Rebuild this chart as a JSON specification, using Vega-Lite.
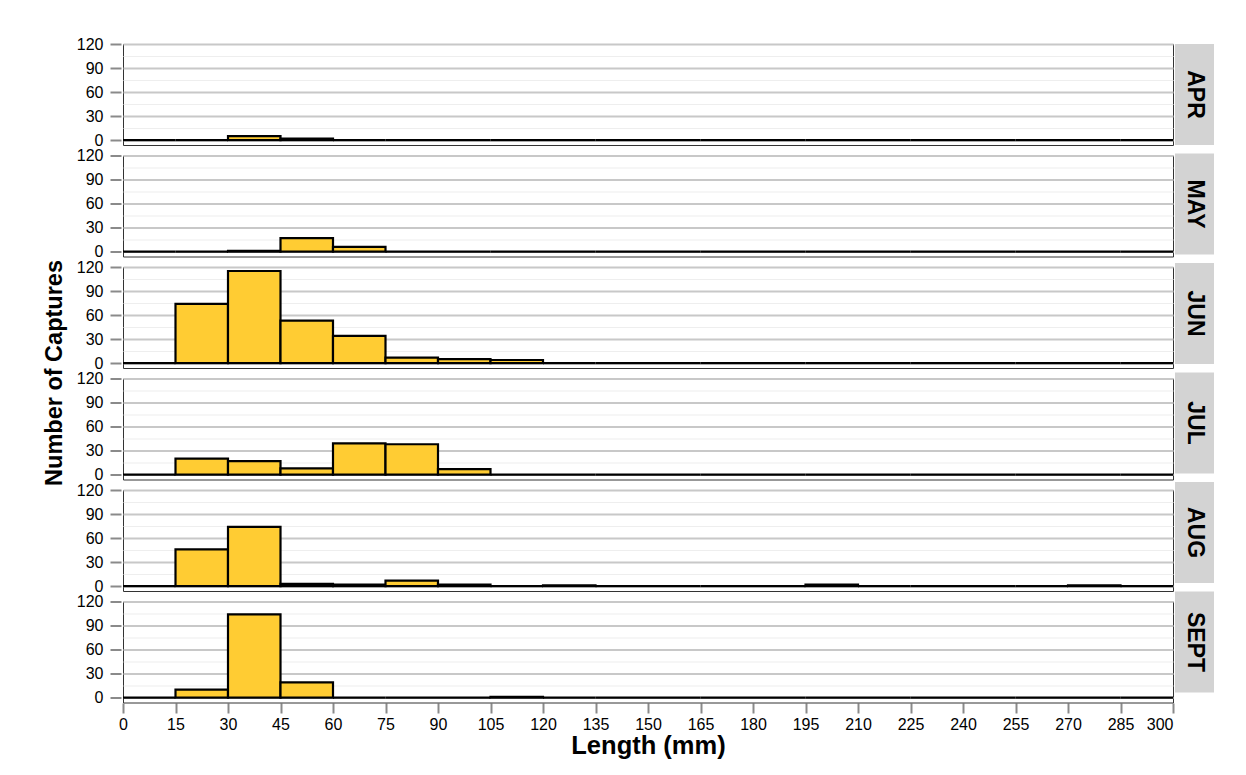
{
  "$schema": "https://vega.github.io/schema/vega-lite/v6.json",
  "background": "white",
  "padding": {"left": 42, "top": 36, "right": 5, "bottom": 5},
  "config": {
    "font": "Liberation Sans",
    "view": {"stroke": "#333333", "strokeWidth": 1},
    "axis": {"labelColor": "black", "titleColor": "black", "labelFont": "Liberation Sans", "titleFont": "Liberation Sans"}
  },
  "data": {
    "values": [
      {"m": "APR", "lo": 0, "hi": 15, "n": 0}, {"m": "APR", "lo": 15, "hi": 30, "n": 0}, {"m": "APR", "lo": 30, "hi": 45, "n": 5}, {"m": "APR", "lo": 45, "hi": 60, "n": 2},
      {"m": "APR", "lo": 60, "hi": 75, "n": 0}, {"m": "APR", "lo": 75, "hi": 90, "n": 0}, {"m": "APR", "lo": 90, "hi": 105, "n": 0}, {"m": "APR", "lo": 105, "hi": 120, "n": 0},
      {"m": "APR", "lo": 120, "hi": 135, "n": 0}, {"m": "APR", "lo": 135, "hi": 150, "n": 0}, {"m": "APR", "lo": 150, "hi": 165, "n": 0}, {"m": "APR", "lo": 165, "hi": 180, "n": 0},
      {"m": "APR", "lo": 180, "hi": 195, "n": 0}, {"m": "APR", "lo": 195, "hi": 210, "n": 0}, {"m": "APR", "lo": 210, "hi": 225, "n": 0}, {"m": "APR", "lo": 225, "hi": 240, "n": 0},
      {"m": "APR", "lo": 240, "hi": 255, "n": 0}, {"m": "APR", "lo": 255, "hi": 270, "n": 0}, {"m": "APR", "lo": 270, "hi": 285, "n": 0}, {"m": "APR", "lo": 285, "hi": 300, "n": 0},

      {"m": "MAY", "lo": 0, "hi": 15, "n": 0}, {"m": "MAY", "lo": 15, "hi": 30, "n": 0}, {"m": "MAY", "lo": 30, "hi": 45, "n": 1}, {"m": "MAY", "lo": 45, "hi": 60, "n": 17},
      {"m": "MAY", "lo": 60, "hi": 75, "n": 6}, {"m": "MAY", "lo": 75, "hi": 90, "n": 0}, {"m": "MAY", "lo": 90, "hi": 105, "n": 0}, {"m": "MAY", "lo": 105, "hi": 120, "n": 0},
      {"m": "MAY", "lo": 120, "hi": 135, "n": 0}, {"m": "MAY", "lo": 135, "hi": 150, "n": 0}, {"m": "MAY", "lo": 150, "hi": 165, "n": 0}, {"m": "MAY", "lo": 165, "hi": 180, "n": 0},
      {"m": "MAY", "lo": 180, "hi": 195, "n": 0}, {"m": "MAY", "lo": 195, "hi": 210, "n": 0}, {"m": "MAY", "lo": 210, "hi": 225, "n": 0}, {"m": "MAY", "lo": 225, "hi": 240, "n": 0},
      {"m": "MAY", "lo": 240, "hi": 255, "n": 0}, {"m": "MAY", "lo": 255, "hi": 270, "n": 0}, {"m": "MAY", "lo": 270, "hi": 285, "n": 0}, {"m": "MAY", "lo": 285, "hi": 300, "n": 0},

      {"m": "JUN", "lo": 0, "hi": 15, "n": 0}, {"m": "JUN", "lo": 15, "hi": 30, "n": 74}, {"m": "JUN", "lo": 30, "hi": 45, "n": 115}, {"m": "JUN", "lo": 45, "hi": 60, "n": 53},
      {"m": "JUN", "lo": 60, "hi": 75, "n": 34}, {"m": "JUN", "lo": 75, "hi": 90, "n": 7}, {"m": "JUN", "lo": 90, "hi": 105, "n": 5}, {"m": "JUN", "lo": 105, "hi": 120, "n": 4},
      {"m": "JUN", "lo": 120, "hi": 135, "n": 0}, {"m": "JUN", "lo": 135, "hi": 150, "n": 0}, {"m": "JUN", "lo": 150, "hi": 165, "n": 0}, {"m": "JUN", "lo": 165, "hi": 180, "n": 0},
      {"m": "JUN", "lo": 180, "hi": 195, "n": 0}, {"m": "JUN", "lo": 195, "hi": 210, "n": 0}, {"m": "JUN", "lo": 210, "hi": 225, "n": 0}, {"m": "JUN", "lo": 225, "hi": 240, "n": 0},
      {"m": "JUN", "lo": 240, "hi": 255, "n": 0}, {"m": "JUN", "lo": 255, "hi": 270, "n": 0}, {"m": "JUN", "lo": 270, "hi": 285, "n": 0}, {"m": "JUN", "lo": 285, "hi": 300, "n": 0},

      {"m": "JUL", "lo": 0, "hi": 15, "n": 0}, {"m": "JUL", "lo": 15, "hi": 30, "n": 20}, {"m": "JUL", "lo": 30, "hi": 45, "n": 17}, {"m": "JUL", "lo": 45, "hi": 60, "n": 8},
      {"m": "JUL", "lo": 60, "hi": 75, "n": 39}, {"m": "JUL", "lo": 75, "hi": 90, "n": 38}, {"m": "JUL", "lo": 90, "hi": 105, "n": 7}, {"m": "JUL", "lo": 105, "hi": 120, "n": 0},
      {"m": "JUL", "lo": 120, "hi": 135, "n": 0}, {"m": "JUL", "lo": 135, "hi": 150, "n": 0}, {"m": "JUL", "lo": 150, "hi": 165, "n": 0}, {"m": "JUL", "lo": 165, "hi": 180, "n": 0},
      {"m": "JUL", "lo": 180, "hi": 195, "n": 0}, {"m": "JUL", "lo": 195, "hi": 210, "n": 0}, {"m": "JUL", "lo": 210, "hi": 225, "n": 0}, {"m": "JUL", "lo": 225, "hi": 240, "n": 0},
      {"m": "JUL", "lo": 240, "hi": 255, "n": 0}, {"m": "JUL", "lo": 255, "hi": 270, "n": 0}, {"m": "JUL", "lo": 270, "hi": 285, "n": 0}, {"m": "JUL", "lo": 285, "hi": 300, "n": 0},

      {"m": "AUG", "lo": 0, "hi": 15, "n": 0}, {"m": "AUG", "lo": 15, "hi": 30, "n": 46}, {"m": "AUG", "lo": 30, "hi": 45, "n": 74}, {"m": "AUG", "lo": 45, "hi": 60, "n": 3},
      {"m": "AUG", "lo": 60, "hi": 75, "n": 2}, {"m": "AUG", "lo": 75, "hi": 90, "n": 7}, {"m": "AUG", "lo": 90, "hi": 105, "n": 2}, {"m": "AUG", "lo": 105, "hi": 120, "n": 0},
      {"m": "AUG", "lo": 120, "hi": 135, "n": 1}, {"m": "AUG", "lo": 135, "hi": 150, "n": 0}, {"m": "AUG", "lo": 150, "hi": 165, "n": 0}, {"m": "AUG", "lo": 165, "hi": 180, "n": 0},
      {"m": "AUG", "lo": 180, "hi": 195, "n": 0}, {"m": "AUG", "lo": 195, "hi": 210, "n": 2}, {"m": "AUG", "lo": 210, "hi": 225, "n": 0}, {"m": "AUG", "lo": 225, "hi": 240, "n": 0},
      {"m": "AUG", "lo": 240, "hi": 255, "n": 0}, {"m": "AUG", "lo": 255, "hi": 270, "n": 0}, {"m": "AUG", "lo": 270, "hi": 285, "n": 1}, {"m": "AUG", "lo": 285, "hi": 300, "n": 0},

      {"m": "SEPT", "lo": 0, "hi": 15, "n": 0}, {"m": "SEPT", "lo": 15, "hi": 30, "n": 10}, {"m": "SEPT", "lo": 30, "hi": 45, "n": 104}, {"m": "SEPT", "lo": 45, "hi": 60, "n": 19},
      {"m": "SEPT", "lo": 60, "hi": 75, "n": 0}, {"m": "SEPT", "lo": 75, "hi": 90, "n": 0}, {"m": "SEPT", "lo": 90, "hi": 105, "n": 0}, {"m": "SEPT", "lo": 105, "hi": 120, "n": 1},
      {"m": "SEPT", "lo": 120, "hi": 135, "n": 0}, {"m": "SEPT", "lo": 135, "hi": 150, "n": 0}, {"m": "SEPT", "lo": 150, "hi": 165, "n": 0}, {"m": "SEPT", "lo": 165, "hi": 180, "n": 0},
      {"m": "SEPT", "lo": 180, "hi": 195, "n": 0}, {"m": "SEPT", "lo": 195, "hi": 210, "n": 0}, {"m": "SEPT", "lo": 210, "hi": 225, "n": 0}, {"m": "SEPT", "lo": 225, "hi": 240, "n": 0},
      {"m": "SEPT", "lo": 240, "hi": 255, "n": 0}, {"m": "SEPT", "lo": 255, "hi": 270, "n": 0}, {"m": "SEPT", "lo": 270, "hi": 285, "n": 0}, {"m": "SEPT", "lo": 285, "hi": 300, "n": 0}
    ]
  },
  "spacing": 0,
  "hconcat": [
    {
      "facet": {
        "row": {
          "field": "m", "type": "nominal",
          "sort": ["APR", "MAY", "JUN", "JUL", "AUG", "SEPT"],
          "title": "Number of Captures",
          "header": {
            "labels": false,
            "titleFont": "Liberation Sans", "titleFontSize": 23.5, "titleFontWeight": "bold",
            "titleColor": "black", "titlePadding": 0, "titleOrient": "left"
          }
        }
      },
      "spacing": 8.5,
      "spec": {
        "width": 1050,
        "height": 101,
        "mark": {"type": "bar", "fill": "#FFCC33", "stroke": "black", "strokeWidth": 2.2},
        "encoding": {
          "x": {
            "field": "lo", "type": "quantitative",
            "scale": {"domain": [0, 300], "nice": false},
            "title": "Length (mm)",
            "axis": {
              "values": [0, 15, 30, 45, 60, 75, 90, 105, 120, 135, 150, 165, 180, 195, 210, 225, 240, 255, 270, 285, 300],
              "grid": false, "domain": false,
              "tickSize": 10, "tickWidth": 2, "tickColor": "#8a8a8a",
              "labelFontSize": 16, "labelPadding": 3, "labelFlush": false, "labelOverlap": false,
              "labelAlign": {"condition": {"test": "datum.value === 300", "value": "right"}, "value": "center"},
              "titleFontSize": 25.5, "titleFontWeight": "bold", "titlePadding": 1
            }
          },
          "x2": {"field": "hi"},
          "y": {
            "field": "n", "type": "quantitative",
            "scale": {"domain": [-6, 120], "nice": false, "zero": false},
            "title": null,
            "axis": {
              "values": [0, 15, 30, 45, 60, 75, 90, 105, 120],
              "labelExpr": "datum.value % 30 === 0 ? datum.label : ''",
              "domain": false,
              "grid": true,
              "gridColor": {"condition": {"test": "datum.value % 30 === 0", "value": "#c8c8c8"}, "value": "#eeeeee"},
              "gridWidth": {"condition": {"test": "datum.value % 30 === 0", "value": 1.8}, "value": 1.2},
              "tickSize": 11, "tickWidth": 2,
              "tickColor": {"condition": {"test": "datum.value % 30 === 0", "value": "#8a8a8a"}, "value": "rgba(0,0,0,0)"},
              "labelFontSize": 16, "labelPadding": 7
            }
          },
          "y2": {"datum": 0}
        }
      }
    },
    {
      "transform": [{"filter": "datum.lo === 0"}],
      "facet": {
        "row": {"field": "m", "type": "nominal", "sort": ["APR", "MAY", "JUN", "JUL", "AUG", "SEPT"], "header": null}
      },
      "spacing": 8.5,
      "spec": {
        "width": 39,
        "height": 101,
        "view": {"fill": "#d3d3d3", "stroke": null},
        "mark": {"type": "text", "angle": 90, "fontWeight": "bold", "fontSize": 23, "font": "Liberation Sans", "color": "black", "align": "center", "baseline": "middle"},
        "encoding": {"text": {"field": "m", "type": "nominal"}}
      }
    }
  ]
}
